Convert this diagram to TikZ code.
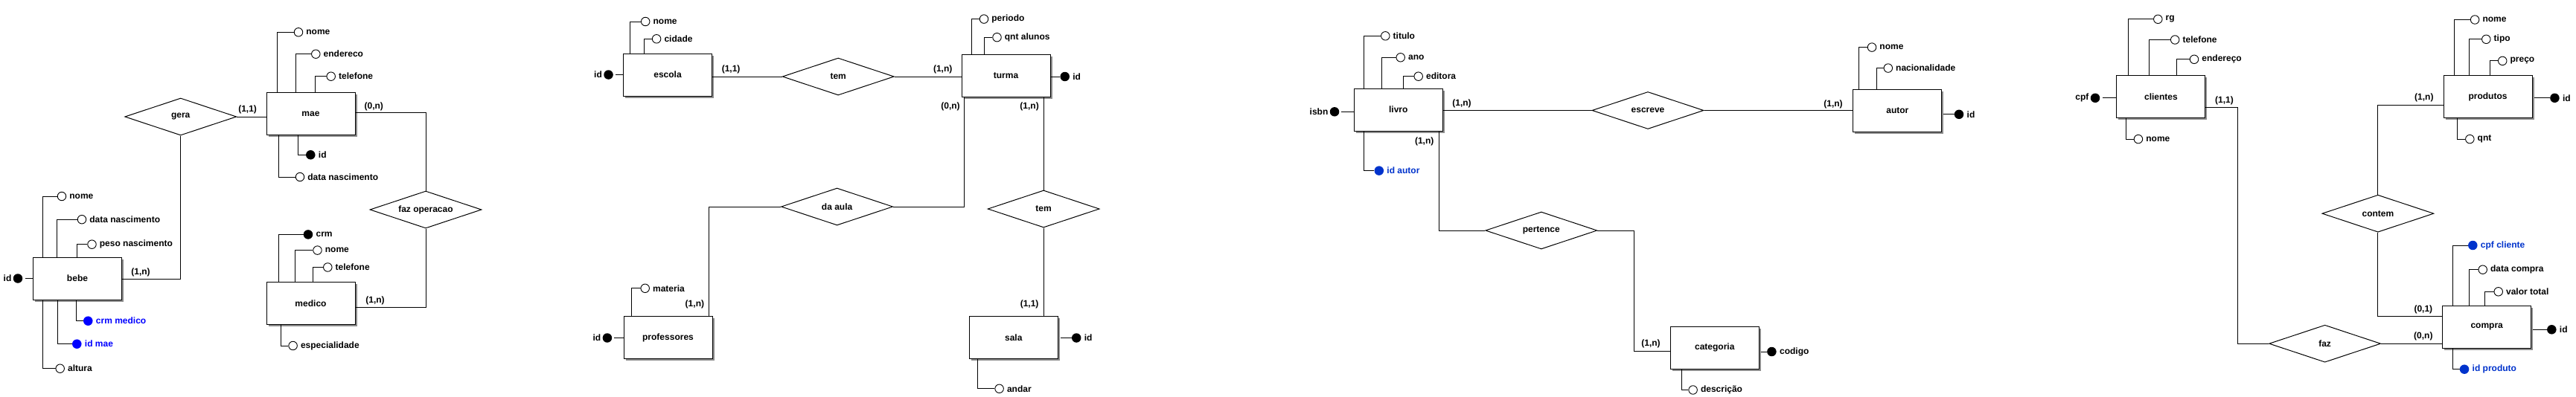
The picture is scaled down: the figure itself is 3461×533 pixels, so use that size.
\documentclass[tikz,border=0pt]{standalone}
\usepackage{fontspec}
\setmainfont{Liberation Sans}
\usetikzlibrary{shapes.geometric,shadows}
\definecolor{fkA}{RGB}{0,0,255}
\definecolor{fkB}{RGB}{0,51,204}
\newcommand\erf{\fontsize{12}{14}\selectfont\bfseries}
\tikzset{
 entity/.style={draw, line width=1pt, fill=white, minimum width=119pt, minimum height=57pt, inner sep=0pt, font=\erf,
   drop shadow={shadow xshift=2.5pt, shadow yshift=-2.5pt, fill=black!45, opacity=1}},
 rel/.style={diamond, draw, line width=1pt, fill=white, aspect=3, minimum width=150pt, minimum height=50pt, inner sep=0pt, font=\erf},
 ao/.style={circle, draw, line width=0.9pt, fill=white, minimum size=11.5pt, inner sep=0pt},
 ak/.style={circle, fill=black, minimum size=12.5pt, inner sep=0pt},
 afa/.style={circle, fill=fkA, minimum size=12.5pt, inner sep=0pt},
 afb/.style={circle, fill=fkB, minimum size=12.5pt, inner sep=0pt},
 al/.style={font=\erf, inner sep=0pt, label distance=4pt},
 alb/.style={font=\erf, inner sep=0pt, label distance=2pt},
 card/.style={font=\erf, inner sep=0pt},
 conn/.style={line width=1pt},
}
\begin{document}
\begin{tikzpicture}[x=1pt,y=-1pt]
\fill[white] (0,0) rectangle (3461,533);
\useasboundingbox (0,0) rectangle (3461,533);

% ================= Diagram 1 =================
\node[entity] (mae) at (417.5,153) {mae};
\node[entity] (bebe) at (104,374.7) {bebe};
\node[entity] (medico) at (417.5,408) {medico};
\node[rel] (gera) at (242.7,157) {gera};
\node[rel] (fazop) at (572,282) {faz operacao};

\node[ao,label={[al]right:nome}] (maenome) at (401,43.3) {};
\node[ao,label={[al]right:endereco}] (maeend) at (424.3,72.7) {};
\node[ao,label={[al]right:telefone}] (maetel) at (444.7,102.7) {};
\node[ak,label={[al]right:id}] (maeid) at (417.3,208.3) {};
\node[ao,label={[al]right:data nascimento}] (maedn) at (403,238) {};
\draw[conn] (maenome) -| ([xshift=15.3pt]mae.north west);
\draw[conn] (maeend) -| ([xshift=39.7pt]mae.north west);
\draw[conn] (maetel) -| ([xshift=66.3pt]mae.north west);
\draw[conn] (maeid) -| ([xshift=42.7pt]mae.south west);
\draw[conn] (maedn) -| ([xshift=16.7pt]mae.south west);

\node[ao,label={[al]right:nome}] (bebenome) at (83,264) {};
\node[ao,label={[al]right:data nascimento}] (bebedn) at (110,295.2) {};
\node[ao,label={[al]right:peso nascimento}] (bebepeso) at (123.5,328.7) {};
\node[afa,label={[al,text=fkA]right:crm medico}] (bebecrm) at (118.3,431.7) {};
\node[afa,label={[al,text=fkA]right:id mae}] (bebeidmae) at (103.3,462.7) {};
\node[ao,label={[al]right:altura}] (bebealt) at (80.7,495.7) {};
\node[ak,label={[alb]left:id}] (bebeid) at (24,374.5) {};
\draw[conn] (bebenome) -| ([xshift=13.2pt]bebe.north west);
\draw[conn] (bebedn) -| ([xshift=32.2pt]bebe.north west);
\draw[conn] (bebepeso) -| ([xshift=59.8pt]bebe.north west);
\draw[conn] (bebecrm) -| ([xshift=58.2pt]bebe.south west);
\draw[conn] (bebeidmae) -| ([xshift=33.2pt]bebe.south west);
\draw[conn] (bebealt) -| ([xshift=13.2pt]bebe.south west);
\draw[conn] ([xshift=4pt]bebeid.east) -- (bebeid.east -| bebe.west);

\node[ak,label={[al]right:crm}] (medcrm) at (414,315.4) {};
\node[ao,label={[al]right:nome}] (mednome) at (426.5,336.6) {};
\node[ao,label={[al]right:telefone}] (medtel) at (440.3,359.5) {};
\node[ao,label={[al]right:especialidade}] (medesp) at (393.6,465) {};
\draw[conn] (medcrm) -| ([xshift=16.8pt]medico.north west);
\draw[conn] (mednome) -| ([xshift=38.7pt]medico.north west);
\draw[conn] (medtel) -| ([xshift=63pt]medico.north west);
\draw[conn] (medesp) -| ([xshift=19.9pt]medico.south west);

\draw[conn] (gera.east) -- (gera.east -| mae.west);
\draw[conn] ([yshift=-1pt]bebe.east) -| (gera.south);
\draw[conn] ([yshift=1.3pt]mae.east) -| (fazop.north);
\draw[conn] (fazop.south) |- ([yshift=-5.5pt]medico.east);
\node[card] (c1) at (332.6,147.6) {(1,1)};
\node[card] (c2) at (189,366.7) {(1,n)};
\node[card] (c3) at (502.3,143.3) {(0,n)};
\node[card] (c4) at (504,404.2) {(1,n)};

% ================= Diagram 2 =================
\node[entity] (escola) at (897,100.5) {escola};
\node[entity] (turma) at (1351.5,101.5) {turma};
\node[entity] (prof) at (897.5,454.1) {professores};
\node[entity] (sala) at (1361.8,454.1) {sala};
\node[rel] (tem1) at (1126.2,103) {tem};
\node[rel] (daaula) at (1124.6,278) {da aula};
\node[rel] (tem2) at (1402.1,281) {tem};

\node[ak,label={[alb]left:id}] (escid) at (817.5,100.5) {};
\node[ao,label={[al]right:nome}] (escnome) at (867.2,29) {};
\node[ao,label={[al]right:cidade}] (esccid) at (882.1,52.3) {};
\draw[conn] ([xshift=3pt]escid.east) -- (escid.east -| escola.west);
\draw[conn] (escnome) -| ([xshift=9pt]escola.north west);
\draw[conn] (esccid) -| ([xshift=28.2pt]escola.north west);

\node[ak,label={[al]right:id}] (turid) at (1430.7,103) {};
\node[ao,label={[al]right:periodo}] (turper) at (1322,25.6) {};
\node[ao,label={[al]right:qnt alunos}] (turqnt) at (1339.5,50.2) {};
\draw[conn] (turid) -- (turid -| turma.east);
\draw[conn] (turper) -| ([xshift=14.4pt]turma.north west);
\draw[conn] (turqnt) -| ([xshift=31.3pt]turma.north west);

\node[ak,label={[alb]left:id}] (profid) at (815.9,454.5) {};
\node[ao,label={[al]right:materia}] (profmat) at (866.7,387.8) {};
\draw[conn] ([xshift=3pt]profid.east) -- (profid.east -| prof.west);
\draw[conn] (profmat) -| ([xshift=10.7pt]prof.north west);

\node[ak,label={[al]right:id}] (salaid) at (1446.2,454.5) {};
\node[ao,label={[al]right:andar}] (salaand) at (1342.6,522.8) {};
\draw[conn] (salaid) -- ([xshift=3pt]salaid -| sala.east);
\draw[conn] (salaand) -| ([xshift=11.8pt]sala.south west);

\draw[conn] (tem1.west) -- (tem1.west -| escola.east);
\draw[conn] (tem1.east) -- (tem1.east -| turma.west);
\draw[conn] ([xshift=3.6pt]turma.south west) |- (daaula.east);
\draw[conn] (tem2.north) -- (tem2.north |- turma.south);
\draw[conn] (tem2.south) -- (tem2.south |- sala.north);
\draw[conn] (daaula.west) -| ([xshift=-5.2pt]prof.north east);
\node[card] (c5) at (982.1,93.3) {(1,1)};
\node[card] (c6) at (1266.7,93.3) {(1,n)};
\node[card] (c7) at (1277,143.5) {(0,n)};
\node[card] (c8) at (1383.1,143.5) {(1,n)};
\node[card] (c9) at (933.4,409) {(1,n)};
\node[card] (c10) at (1383.1,409) {(1,1)};

% ================= Diagram 3 =================
\node[entity] (livro) at (1878.8,147.7) {livro};
\node[entity] (autor) at (2549.3,148.8) {autor};
\node[entity] (categoria) at (2303.8,467.6) {categoria};
\node[rel] (escreve) at (2214,148.5) {escreve};
\node[rel] (pertence) at (2070.8,310) {pertence};
\coordinate (pb) at (2195,310);

\node[ak,label={[alb]left:isbn}] (isbn) at (1793,150.3) {};
\node[ao,label={[al]right:titulo}] (livtit) at (1861.3,48.3) {};
\node[ao,label={[al]right:ano}] (livano) at (1881.7,77.3) {};
\node[ao,label={[al]right:editora}] (livedi) at (1905.7,102.7) {};
\node[afb,label={[al,text=fkB]right:id autor}] (livida) at (1852.8,229.6) {};
\draw[conn] ([xshift=3pt]isbn.east) -- (isbn.east -| livro.west);
\draw[conn] (livtit) -| ([xshift=14pt]livro.north west);
\draw[conn] (livano) -| ([xshift=37.4pt]livro.north west);
\draw[conn] (livedi) -| ([xshift=66.4pt]livro.north west);
\draw[conn] (livida) -| ([xshift=14pt]livro.south west);

\node[ak,label={[al]right:id}] (autid) at (2632,153.8) {};
\node[ao,label={[al]right:nome}] (autnome) at (2515,63.6) {};
\node[ao,label={[al]right:nacionalidade}] (autnac) at (2536.8,91.6) {};
\draw[conn] (autid) -- ([xshift=2pt]autid -| autor.east);
\draw[conn] (autnome) -| ([xshift=8.3pt]autor.north west);
\draw[conn] (autnac) -| ([xshift=32pt]autor.north west);

\node[ak,label={[al]right:codigo}] (catcod) at (2380.4,473) {};
\node[ao,label={[al]right:descrição}] (catdesc) at (2274.6,524.5) {};
\draw[conn] (catcod) -- ([xshift=2pt]catcod -| categoria.east);
\draw[conn] (catdesc) -| ([xshift=15.3pt]categoria.south west);

\draw[conn] (escreve.west) -- (escreve.west -| livro.east);
\draw[conn] (escreve.east) -- (escreve.east -| autor.west);
\draw[conn] ([xshift=-5.6pt]livro.south east) |- (pertence.west);
\draw[conn] (pertence.east) -- (pb) |- ([yshift=-4.5pt]categoria.west);
\node[card] (c11) at (1964,139.4) {(1,n)};
\node[card] (c12) at (1913.7,190.7) {(1,n)};
\node[card] (c13) at (2463,140.1) {(1,n)};
\node[card] (c14) at (2218,462) {(1,n)};

% ================= Diagram 4 =================
\node[entity] (clientes) at (2903.4,130.2) {clientes};
\node[entity] (produtos) at (3342.5,130.2) {produtos};
\node[entity] (compra) at (3341.2,440) {compra};
\node[rel] (faz) at (3123.6,462.2) {faz};
\node[rel] (contem) at (3194.9,287.2) {contem};
\coordinate (fb) at (3006.1,462.2);

\node[ak,label={[alb]left:cpf}] (clicpf) at (2815,131.8) {};
\node[ao,label={[al]right:rg}] (clirg) at (2899.3,25.8) {};
\node[ao,label={[al]right:telefone}] (clitel) at (2922.2,53.5) {};
\node[ao,label={[al]right:endereço}] (cliend) at (2948,79.8) {};
\node[ao,label={[al]right:nome}] (clinome) at (2872.9,187.1) {};
\draw[conn] ([xshift=4pt]clicpf.east) -- (clicpf.east -| clientes.west);
\draw[conn] (clirg) -| ([xshift=16.1pt]clientes.north west);
\draw[conn] (clitel) -| ([xshift=43.9pt]clientes.north west);
\draw[conn] (cliend) -| ([xshift=81.5pt]clientes.north west);
\draw[conn] (clinome) -| ([xshift=13.2pt]clientes.south west);

\node[ak,label={[al]right:id}] (prodid) at (3432.4,131.8) {};
\node[ao,label={[al]right:nome}] (prodnome) at (3325.1,26.5) {};
\node[ao,label={[al]right:tipo}] (prodtipo) at (3340.3,52.8) {};
\node[ao,label={[al]right:preço}] (prodpreco) at (3362.2,81.9) {};
\node[ao,label={[al]right:qnt}] (prodqnt) at (3318.3,187.1) {};
\draw[conn] (prodid) -- ([xshift=2pt]prodid -| produtos.east);
\draw[conn] (prodnome) -| ([xshift=15.1pt]produtos.north west);
\draw[conn] (prodtipo) -| ([xshift=35.1pt]produtos.north west);
\draw[conn] (prodpreco) -| ([xshift=63.4pt]produtos.north west);
\draw[conn] (prodqnt) -| ([xshift=19pt]produtos.south west);

\node[ak,label={[al]right:id}] (compid) at (3428.3,443.3) {};
\node[afb,label={[al,text=fkB]right:cpf cliente}] (compcpf) at (3322.3,330) {};
\node[ao,label={[al]right:data compra}] (compdata) at (3335.7,362.7) {};
\node[ao,label={[al]right:valor total}] (compval) at (3356.7,392.3) {};
\node[afb,label={[al,text=fkB]right:id produto}] (compidp) at (3311,496.7) {};
\draw[conn] (compid) -- ([xshift=2pt]compid -| compra.east);
\draw[conn] (compcpf) -| ([xshift=14pt]compra.north west);
\draw[conn] (compdata) -| ([xshift=36pt]compra.north west);
\draw[conn] (compval) -| ([xshift=57.6pt]compra.north west);
\draw[conn] (compidp) -| ([xshift=14pt]compra.south west);

\draw[conn] ([yshift=-14.5pt]clientes.east) -| (fb) -- (faz.west);
\draw[conn] (faz.east) -- (faz.east -| compra.west);
\draw[conn] ([yshift=-11.5pt]produtos.west) -| (contem.north);
\draw[conn] (contem.south) |- ([yshift=14.3pt]compra.west);
\node[card] (c15) at (2988.5,135.2) {(1,1)};
\node[card] (c16) at (3255.8,451.9) {(0,n)};
\node[card] (c17) at (3255.8,416) {(0,1)};
\node[card] (c18) at (3256.8,131.8) {(1,n)};
\end{tikzpicture}
\end{document}
